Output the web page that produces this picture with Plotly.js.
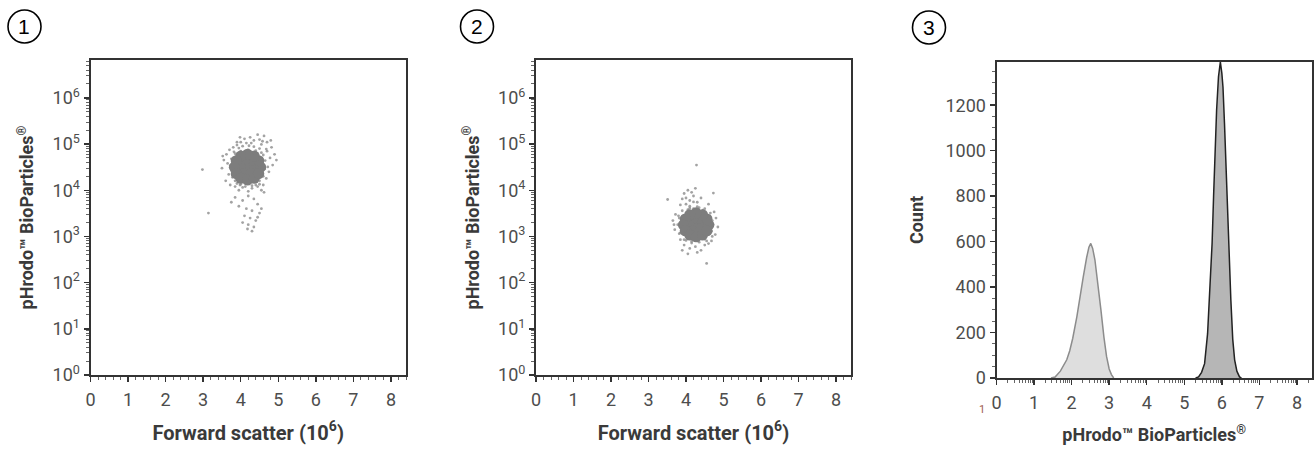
<!DOCTYPE html>
<html>
<head>
<meta charset="utf-8">
<script src="https://cdn.plot.ly/plotly-3.0.1.min.js"></script>
<style>html,body{margin:0;padding:0;background:#fff;}#chart{width:1315px;height:451px;}</style>
</head>
<body>
<div id="chart"></div>
<script>
// ---------- DATA ----------
// Panel 1: forward scatter (10^6) vs pHrodo fluorescence — dense core
const p1CoreX = [4.18, 4.37, 4.28, 4.09, 3.99, 4.08, 4.28,
  4.53, 4.48, 4.36, 4.18, 4.00, 3.88, 3.83, 3.88, 4.00, 4.18, 4.36, 4.48];
const p1CoreY = [3.16e4, 3.16e4, 4.47e4, 4.37e4, 3.16e4, 2.29e4, 2.29e4,
  3.16e4, 4.37e4, 5.5e4, 6.03e4, 5.5e4, 4.37e4, 3.16e4, 2.29e4, 1.82e4, 1.66e4, 1.82e4, 2.29e4];
// Panel 1: sparse events
const p1X = [4.0, 4.1, 4.25, 4.35, 4.5, 4.62, 4.7, 3.9, 4.55, 4.8, 3.8, 4.45, 4.15, 3.98,
  4.7, 4.78, 4.85, 4.9, 4.75, 4.68, 4.82, 4.6, 4.95, 4.72,
  3.55, 3.5, 3.62, 3.68, 3.6, 3.7, 3.52, 3.65, 3.72,
  3.85, 3.95, 4.05, 4.2, 4.3, 4.45, 4.55, 4.62, 4.0, 4.4, 3.9,
  3.85, 4.05, 4.2, 4.35, 4.45, 3.95, 4.15, 4.3, 4.5, 4.1, 4.25, 4.4, 4.2, 4.35, 4.05, 4.3, 4.18, 4.45, 3.75, 4.55,
  2.98, 3.14,
  3.8, 3.82, 4.58, 4.55, 4.2, 4.0, 4.4, 4.1, 4.35, 3.85, 4.55, 3.9, 4.5,
  3.72, 3.75, 3.76, 3.82, 3.85, 3.95, 4.05, 4.22, 4.35, 4.5, 4.6, 4.65, 4.64, 4.6, 4.5, 4.3, 4.12, 3.98, 3.78, 4.68, 3.9, 4.28, 4.58, 4.08];
const p1Y = [1.1e5, 1.3e5, 1.4e5, 1.2e5, 1.25e5, 1.5e5, 1.1e5, 9.5e4, 9.8e4, 1.2e5, 8.5e4, 1.6e5, 1.05e5, 1.4e5,
  7.0e4, 5.0e4, 3.5e4, 6.0e4, 2.5e4, 1.8e4, 8.5e4, 1.3e4, 4.5e4, 3.2e4,
  4.5e4, 3.0e4, 6.0e4, 2.2e4, 1.6e4, 7.5e4, 5.5e4, 3.8e4, 1.3e4,
  1.2e4, 1.0e4, 1.15e4, 9.5e3, 1.1e4, 1.2e4, 1.0e4, 9.0e3, 1.35e4, 1.3e4, 1.4e4,
  7.0e3, 6.0e3, 7.5e3, 6.5e3, 5.0e3, 4.5e3, 4.0e3, 3.6e3, 3.2e3, 2.8e3, 2.5e3, 2.2e3, 1.8e3, 1.6e3, 2.0e3, 1.3e3, 1.45e3, 2.6e3, 5.5e3, 4.0e3,
  2.8e4, 3.2e3,
  4.2e4, 2.4e4, 4.0e4, 2.2e4, 7.5e4, 7.0e4, 7.2e4, 1.6e4, 1.55e4, 6.2e4, 6.5e4, 1.7e4, 1.6e4,
  3.4e4, 4.8e4, 2.6e4, 6.8e4, 1.6e4, 8.2e4, 9.0e4, 9.2e4, 8.8e4, 8.0e4, 5.8e4, 4.4e4, 2.9e4, 2.0e4, 1.35e4, 1.25e4, 1.2e4, 1.3e4, 1.9e4, 7.8e4, 1.1e5, 1.05e5, 1.15e5, 1.6e4];

// Panel 2: dense core
const p2CoreX = [4.27, 4.46, 4.37, 4.18, 4.08, 4.17, 4.37,
  4.61, 4.56, 4.44, 4.27, 4.10, 3.98, 3.93, 3.98, 4.10, 4.27, 4.44, 4.56];
const p2CoreY = [1.78e3, 1.78e3, 2.51e3, 2.45e3, 1.78e3, 1.29e3, 1.29e3,
  1.78e3, 2.4e3, 2.95e3, 3.24e3, 2.95e3, 2.4e3, 1.78e3, 1.32e3, 1.07e3, 9.8e2, 1.07e3, 1.32e3];
// Panel 2: sparse events
const p2X = [4.0, 4.1, 4.2, 3.95, 4.05, 4.15, 4.3, 3.9, 4.25, 3.85, 4.1, 4.35, 4.4,
  3.65, 3.7, 3.72, 4.8, 4.85, 4.78, 4.75, 3.68,
  3.95, 4.1, 4.25, 4.4, 4.5, 4.05, 4.3, 4.6, 4.55, 3.9, 4.15, 4.68, 3.85,
  4.28, 4.73, 3.51,
  3.82, 3.85, 4.7, 4.68, 4.2, 4.45, 4.05, 4.25, 4.0, 4.5,
  3.78, 3.8, 3.82, 3.9, 4.1, 4.3, 4.5, 4.65, 4.72, 4.7, 4.55, 4.35, 4.15, 3.95, 4.0, 4.2, 4.6];
const p2Y = [5.0e3, 6.0e3, 7.5e3, 8.5e3, 1.0e4, 9.0e3, 5.5e3, 6.5e3, 1.1e4, 4.8e3, 4.5e3, 4.2e3, 6.8e3,
  2.2e3, 1.4e3, 3.0e3, 2.5e3, 1.6e3, 1.1e3, 3.4e3, 1.8e3,
  6.5e2, 5.5e2, 6.0e2, 5.0e2, 6.5e2, 4.2e2, 4.5e2, 7.0e2, 2.6e2, 5.0e2, 7.2e2, 8.0e2, 8.5e2,
  3.5e4, 8.7e3, 6.3e3,
  2.5e3, 1.2e3, 2.2e3, 1.3e3, 4.0e3, 3.7e3, 3.8e3, 8.5e2, 8.2e2, 8.8e2,
  1.8e3, 2.8e3, 1.15e3, 3.6e3, 4.1e3, 4.4e3, 4.0e3, 3.2e3, 1.8e3, 1.0e3, 8.0e2, 7.5e2, 7.8e2, 8.5e2, 6.8e3, 5.6e3, 5.0e3];

// Panel 3: histograms
const h1X = [1.45, 1.56, 1.70, 1.78, 1.87, 1.95, 2.03, 2.14, 2.24, 2.31, 2.40, 2.46, 2.51, 2.56, 2.62, 2.70, 2.78, 2.86, 2.93, 3.00, 3.06, 3.12];
const h1Y = [0, 4, 30, 52, 80, 120, 175, 270, 380, 445, 530, 575, 592, 570, 520, 420, 300, 180, 95, 40, 15, 0];
const h2X = [5.30, 5.38, 5.46, 5.54, 5.62, 5.69, 5.74, 5.78, 5.82, 5.86, 5.91, 5.96, 6.00, 6.03, 6.07, 6.11, 6.15, 6.19, 6.24, 6.29, 6.34, 6.40, 6.47, 6.52];
const h2Y = [0, 5, 25, 63, 195, 415, 592, 800, 1002, 1178, 1325, 1390, 1340, 1280, 1120, 929, 800, 600, 342, 170, 80, 30, 5, 0];

// Ticks / labels
const xTickVals = [0, 1, 2, 3, 4, 5, 6, 7, 8];
const xTickText = ['0', '1', '2', '3', '4', '5', '6', '7', '8'];
const yLogVals = [1, 10, 100, 1000, 1e4, 1e5, 1e6];
const yLogText = ['10<sup>0</sup>', '10<sup>1</sup>', '10<sup>2</sup>', '10<sup>3</sup>', '10<sup>4</sup>', '10<sup>5</sup>', '10<sup>6</sup>'];
const countVals = [0, 200, 400, 600, 800, 1000, 1200];
const panelLabels = ['1', '2', '3'];
const xTitle = 'Forward scatter (10<sup>6</sup>)';
const yTitle = 'pHrodo™ BioParticles<sup>®</sup>';
const countTitle = 'Count';

// ---------- STYLE ----------
const FONT = 'Roboto, "DejaVu Sans", sans-serif';
const TXT = '#3a3a3a';
const TICKTXT = '#4d4d4d';
const W = 1315, H = 451;
const px = v => v / W;
const py = v => 1 - v / H;

const minorLog = [];
for (let k = 0; k < 9; k++) for (let m = 2; m <= 9; m++) { const v = k + Math.log10(m); if (v < 8.4) minorLog.push(v); }
const minorLogY = [];
for (let d = 0; d < 7; d++) for (let m = 2; m <= 9; m++) minorLogY.push(m * Math.pow(10, d));

function xAxis(domain, anchor, title, size) {
  return {
    domain: domain, anchor: anchor, range: [0, 8.4],
    tickmode: 'array', tickvals: xTickVals, ticktext: xTickText,
    ticks: 'outside', ticklen: 5, tickwidth: 1.5, tickcolor: '#333',
    ticklabelstandoff: 2,
    showline: true, mirror: true, linewidth: 2, linecolor: '#333',
    showgrid: false, zeroline: false,
    tickfont: {family: FONT, size: 18, color: TICKTXT},
    title: {text: '<b>' + title + '</b>', font: {family: FONT, size: size, color: TXT}, standoff: 17}
  };
}

const logY = (domain, anchor) => ({
  domain: domain, anchor: anchor, type: 'log', range: [0, 6.82],
  tickmode: 'array', tickvals: yLogVals, ticktext: yLogText,
  ticks: 'outside', ticklen: 5, tickwidth: 1.5, tickcolor: '#333',
  minor: {tickmode: 'array', tickvals: minorLogY, ticklen: 3, tickcolor: '#666', tickwidth: 1},
  showline: true, mirror: true, linewidth: 2, linecolor: '#333',
  showgrid: false, zeroline: false,
  tickfont: {family: FONT, size: 18, color: TICKTXT},
  title: {text: '<b>' + yTitle + '</b>', font: {family: FONT, size: 18, color: TXT}, standoff: 14}
});

const traces = [
  {x: p1X, y: p1Y, xaxis: 'x', yaxis: 'y', type: 'scatter', mode: 'markers',
   marker: {size: 2.8, color: '#8c8c8c', opacity: 0.8}, hoverinfo: 'skip'},
  {x: p1CoreX, y: p1CoreY, xaxis: 'x', yaxis: 'y', type: 'scatter', mode: 'markers',
   marker: {size: 11, color: '#7d7d7d'}, hoverinfo: 'skip'},
  {x: p2X, y: p2Y, xaxis: 'x2', yaxis: 'y2', type: 'scatter', mode: 'markers',
   marker: {size: 2.8, color: '#8c8c8c', opacity: 0.8}, hoverinfo: 'skip'},
  {x: p2CoreX, y: p2CoreY, xaxis: 'x2', yaxis: 'y2', type: 'scatter', mode: 'markers',
   marker: {size: 11, color: '#7d7d7d'}, hoverinfo: 'skip'},
  {x: h1X, y: h1Y, xaxis: 'x3', yaxis: 'y3', type: 'scatter', mode: 'lines', fill: 'tozeroy',
   fillcolor: '#dedede', line: {color: '#8c8c8c', width: 1.5}, hoverinfo: 'skip'},
  {x: h2X, y: h2Y, xaxis: 'x3', yaxis: 'y3', type: 'scatter', mode: 'lines', fill: 'tozeroy',
   fillcolor: '#b6b6b6', line: {color: '#222', width: 1.5}, hoverinfo: 'skip'}
];

const x1 = xAxis([px(90.5), px(406)], 'y', xTitle, 20);
x1.minor = {dtick: 0.2, ticklen: 3, tickcolor: '#666', tickwidth: 1};
const x2 = xAxis([px(536), px(851)], 'y2', xTitle, 20);
x2.minor = {dtick: 0.2, ticklen: 3, tickcolor: '#666', tickwidth: 1};
const x3 = xAxis([px(996.5), px(1312)], 'y3', yTitle, 18);
x3.minor = {tickmode: 'array', tickvals: minorLog, ticklen: 3, tickcolor: '#666', tickwidth: 1};

const labelFont = {family: '"Liberation Sans", Arial, sans-serif', size: 21, color: '#000'};

const layout = {
  width: W, height: H,
  margin: {l: 0, r: 0, t: 0, b: 0},
  paper_bgcolor: '#fff', plot_bgcolor: '#fff',
  showlegend: false,
  xaxis: x1, yaxis: logY([1 - 375 / H, 1 - 60 / H], 'x'),
  xaxis2: x2, yaxis2: logY([1 - 375 / H, 1 - 60 / H], 'x2'),
  xaxis3: x3,
  yaxis3: {
    domain: [1 - 378 / H, 1 - 62 / H], anchor: 'x3', range: [0, 1390],
    tickmode: 'array', tickvals: countVals,
    ticks: 'outside', ticklen: 5, tickwidth: 1.5, tickcolor: '#333',
    minor: {dtick: 50, ticklen: 3, tickcolor: '#666', tickwidth: 1},
    showline: true, mirror: true, linewidth: 2, linecolor: '#333',
    showgrid: false, zeroline: false,
    tickfont: {family: FONT, size: 18, color: TICKTXT},
    title: {text: '<b>' + countTitle + '</b>', font: {family: FONT, size: 18, color: TXT}, standoff: 17}
  },
  shapes: [
    {type: 'circle', xref: 'paper', yref: 'paper', x0: px(8), x1: px(41), y0: py(43), y1: py(10), line: {color: '#000', width: 1.6}},
    {type: 'circle', xref: 'paper', yref: 'paper', x0: px(460.5), x1: px(493.5), y0: py(43), y1: py(10), line: {color: '#000', width: 1.6}},
    {type: 'circle', xref: 'paper', yref: 'paper', x0: px(912.5), x1: px(945.5), y0: py(44), y1: py(11), line: {color: '#000', width: 1.6}}
  ],
  annotations: [
    {text: panelLabels[0], xref: 'paper', yref: 'paper', x: px(24.5), y: py(26.5), showarrow: false, xanchor: 'center', yanchor: 'middle', font: labelFont},
    {text: panelLabels[1], xref: 'paper', yref: 'paper', x: px(477), y: py(26.5), showarrow: false, xanchor: 'center', yanchor: 'middle', font: labelFont},
    {text: panelLabels[2], xref: 'paper', yref: 'paper', x: px(929), y: py(27.5), showarrow: false, xanchor: 'center', yanchor: 'middle', font: labelFont},
    {text: '1', xref: 'paper', yref: 'paper', x: px(982), y: py(409), showarrow: false, xanchor: 'center', yanchor: 'middle', font: {family: FONT, size: 11, color: '#a0604f'}}
  ]
};

Plotly.newPlot('chart', traces, layout, {staticPlot: true, displayModeBar: false});
</script>
</body>
</html>
